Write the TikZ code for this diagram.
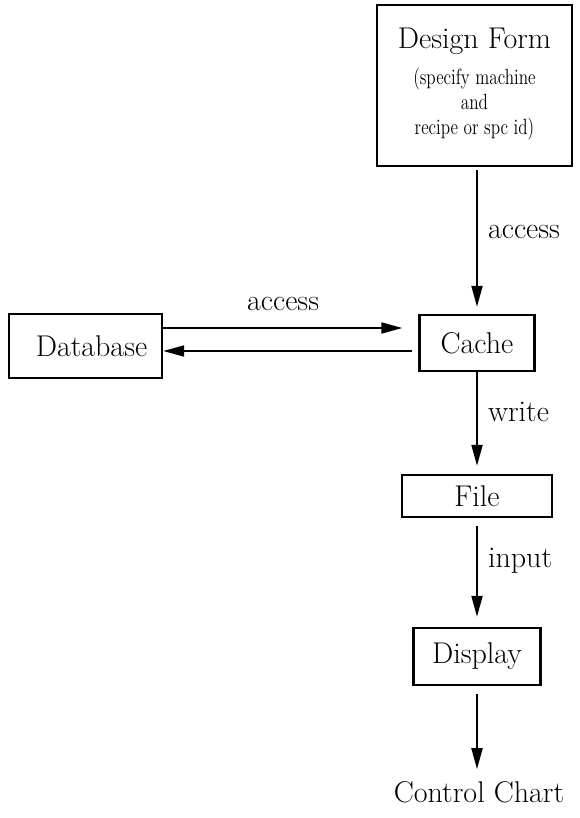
\documentclass[tikz,border=0pt]{standalone}
\usepackage{graphicx}
\usetikzlibrary{arrows.meta}

% small condensed lines inside the design form
\newcommand{\formnote}[1]{\scalebox{0.78}[1]{\fontsize{11}{12.5}\selectfont\begin{tabular}[t]{@{}c@{}}#1\end{tabular}}}

\begin{document}
\begin{tikzpicture}[x=0.5pt, y=-0.5pt,
		font=\fontsize{15}{18}\selectfont,
		box/.style={draw, rectangle, line width=1.2pt, inner sep=2pt},
		flow/.style={-{Triangle[length=10.5pt,width=5.5pt]}, line width=1pt},
		lbl/.style={right=1.7pt}]
	\useasboundingbox (0,0) rectangle (579,818);

	% Design form
	\node[box, minimum width=97.5pt, minimum height=80.5pt, align=center] (design) at (474.5,85.5) {Design Form\\\formnote{(specify machine\\and\\recipe or spc id)}};

	% Database and cache
	\node[box, minimum width=76.5pt, minimum height=32pt] (database) at (85.5,346) {\hspace{6pt}Database};
	\node[box, minimum width=57.5pt, minimum height=28pt] (cache) at (477,343) {Cache};

	% File, display and chart
	\node[box, minimum width=75pt, minimum height=21pt] (file) at (477,496) {File};
	\node[box, minimum width=63.5pt, minimum height=28.5pt] (display) at (477,656.5) {Display};
	\node (chart) at (479,792) {Control Chart};

	% Connectors
	\draw[flow, shorten <=1.5pt, shorten >=3.5pt] (design.south -| cache.north) -- node[lbl, pos=0.44] (lblfetch) {access} (cache.north);
	\draw[flow, shorten >=8pt] ([yshift=9pt]database.east) -- node[above=5pt, pos=0.47] (lblaccess) {access} ([yshift=9pt]database.east -| cache.west);
	\draw[flow, shorten <=3pt] ([yshift=-2.5pt]database.east -| cache.west) -- ([yshift=-2.5pt]database.east);
	\draw[flow, shorten >=4pt] (cache.south) -- node[lbl, pos=0.39] (lblwrite) {write} (file.north);
	\draw[flow, shorten <=4pt, shorten >=5pt] (file.south) -- node[lbl, pos=0.39] (lblinput) {input} (display.north);
	\draw[flow, shorten <=4pt, shorten >=2.5pt] (display.south) -- (display.south |- chart.north);
\end{tikzpicture}
\end{document}
